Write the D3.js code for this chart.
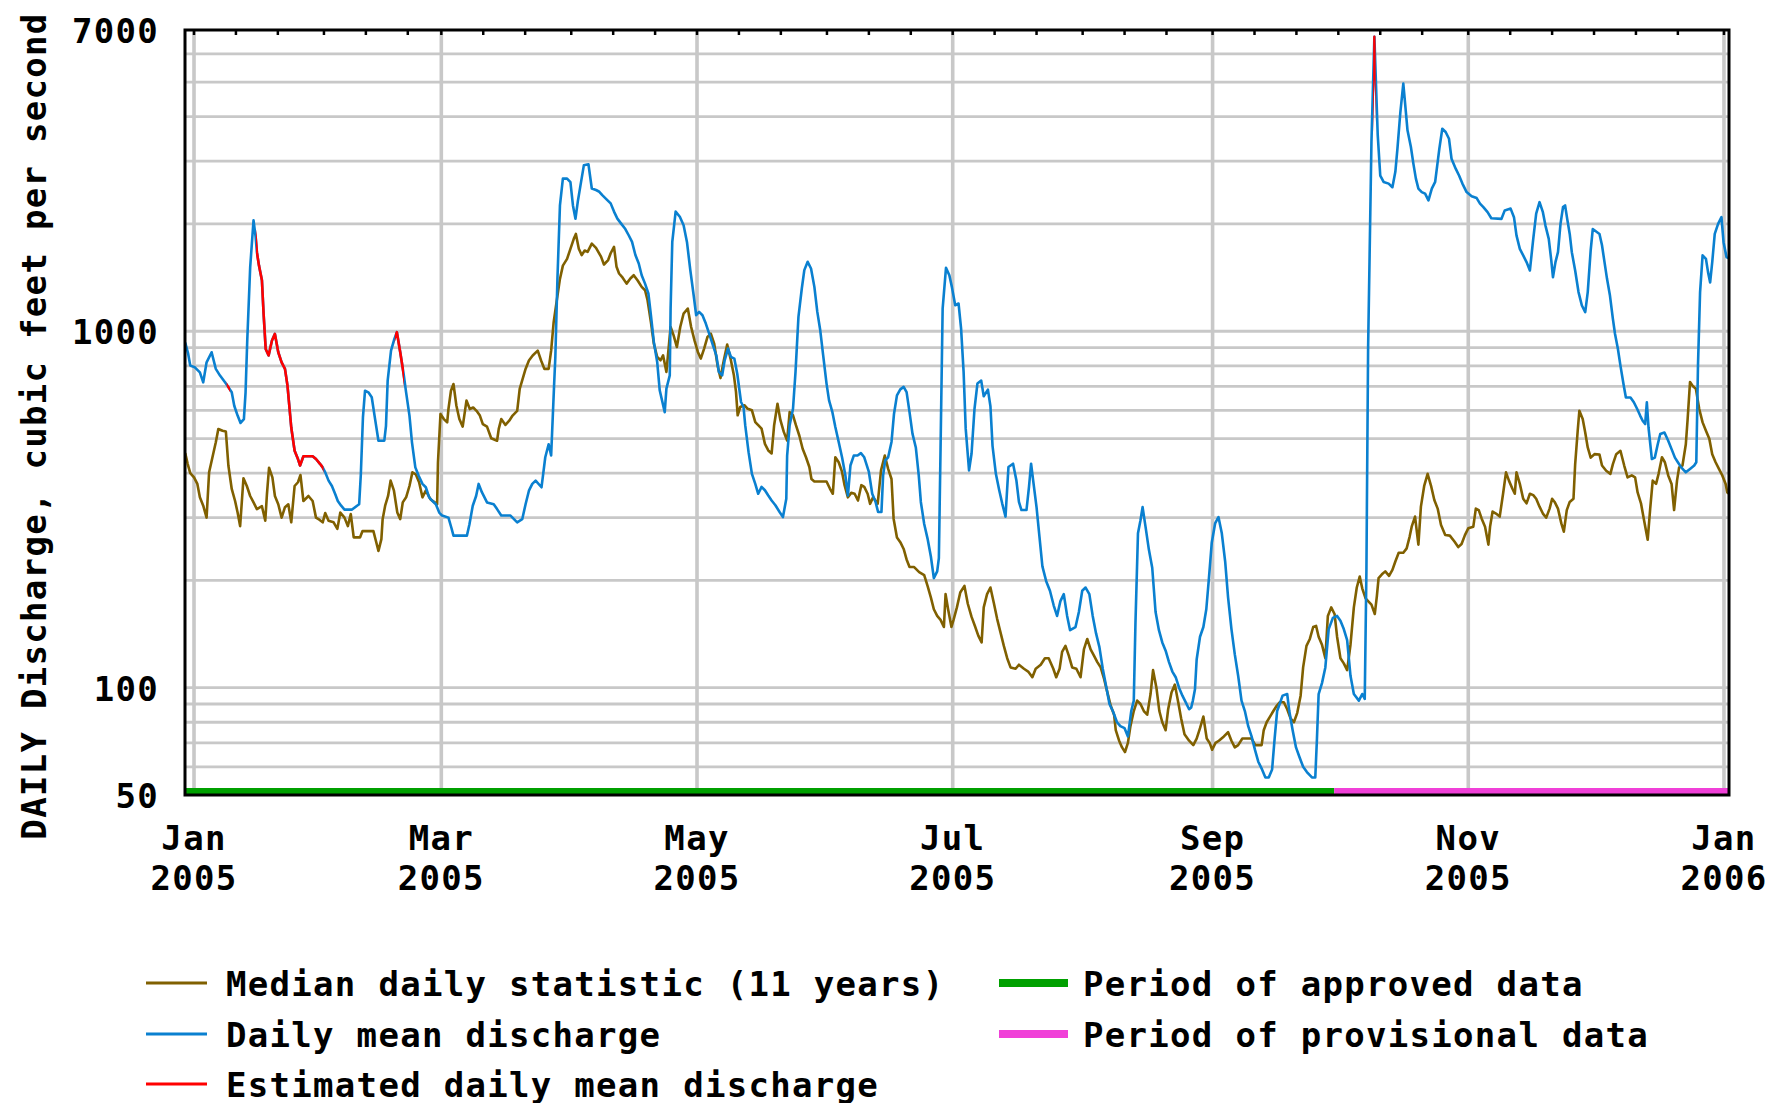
<!DOCTYPE html>
<html>
<head>
<meta charset="utf-8">
<script src="https://cdn.jsdelivr.net/npm/d3@7"></script>
<style>
  body { margin: 0; background: #fff; }
  text { font-family: "DejaVu Sans Mono", monospace; font-weight: bold; font-size: 34px; letter-spacing: 1.3px; fill: #000; }
</style>
</head>
<body>
<div id="chart"></div>
<script>
// days are counted from 1 Jan 2005, flows in cubic feet per second
var median = [
[-2.1,455],[-1.5,424],[-0.9,400],[0,389],[0.8,373],[1.4,342],[2.2,324],[3.0,300],[3.6,402],[4.4,443],[5.2,488],[5.8,532],[6.8,526],[7.6,523],[8.2,420],[9.0,361],[9.8,334],[10.4,310],[11.0,284],[11.8,387],[12.6,368],[13.4,345],[14.2,331],[15.0,317],[16.2,323],[17.0,294],[17.4,349],[17.9,414],[18.7,389],[19.3,345],[20.1,327],[20.9,300],[21.7,321],[22.5,327],[23.2,291],[24.0,368],[24.8,377],[25.4,395],[26.1,334],[27.3,345],[28.3,334],[29.1,300],[29.9,296],[30.7,291],[31.3,309],[32.1,294],[33.3,291],[34.2,279],[34.9,310],[35.9,300],[36.7,284],[37.4,307],[38.1,264],[39.6,264],[40.2,275],[42.8,275],[43.4,258],[44.0,242],[44.7,261],[45.0,297],[45.6,324],[46.3,345],[46.9,381],[47.7,357],[48.5,310],[49.2,297],[49.8,331],[50.6,342],[51.4,368],[52.1,402],[52.9,397],[53.7,377],[54.5,342],[55.3,357],[56.4,338],[57.4,331],[58.0,327],[58.2,429],[58.8,586],[59.6,567],[60.4,555],[60.7,605],[61.3,681],[61.9,711],[62.6,618],[63.3,567],[64.1,540],[65.0,639],[65.8,605],[66.6,611],[67.4,598],[68.2,580],[68.9,549],[69.9,540],[70.9,501],[72.3,493],[72.7,532],[73.3,567],[74.3,546],[75.2,561],[76.0,580],[77.1,598],[77.7,689],[78.4,735],[79.1,784],[79.9,828],[80.8,855],[82.0,882],[82.8,828],[83.6,784],[84.6,784],[85.2,882],[85.8,1060],[86.6,1233],[87.3,1402],[88.0,1528],[89.0,1596],[89.8,1703],[90.6,1816],[91.1,1875],[91.8,1703],[92.5,1635],[93.2,1685],
[93.9,1670],[94.9,1762],[95.9,1714],[97.1,1619],[97.8,1539],[98.8,1584],[99.4,1655],[100.2,1725],[100.8,1516],[101.4,1452],[102.1,1421],[103.2,1360],[104.1,1406],[104.9,1436],[105.8,1390],[106.8,1332],[107.6,1303],[108.2,1222],[109.0,1062],[109.7,923],[110.5,847],[111.3,829],[111.9,856],[112.7,769],[113.7,1028],[114.4,975],[115.2,903],[116.0,1028],[116.8,1121],[117.8,1158],[118.6,1028],[119.4,943],[120.2,875],[120.9,838],[121.7,894],[122.5,964],[123.3,985],[124.1,923],[124.9,802],[125.6,739],[126.4,829],[127.2,918],[128.0,838],[128.8,752],[129.3,676],[129.7,581],[130.3,613],[131.3,620],[132.1,606],[133.1,600],[133.9,556],[134.6,545],[135.4,533],[136.2,483],[137.0,463],[137.8,454],[138.4,545],[139.2,626],[139.9,563],[140.7,522],[141.5,494],[142.1,593],[142.9,581],[143.6,545],[144.4,510],[145.2,468],[146.0,443],[146.8,416],[147.3,385],[148.0,379],[150.9,379],[151.7,362],[152.4,350],[153.0,443],[153.8,429],[154.6,403],[155.2,370],[156.0,342],[156.8,352],[157.6,350],[158.4,335],[159.2,370],[159.9,366],[160.7,350],[161.3,328],[162.0,342],[163.1,328],[163.9,407],[164.8,448],[165.6,411],[166.4,385],[166.9,298],[167.7,264],[168.5,256],[169.3,245],[170.0,229],[170.7,218],[171.8,218],[173.0,211],[174.2,207],[175.0,193],[175.8,179],[176.5,166],[177.3,159],[178.1,155],[178.9,148],[179.3,183],[179.9,166],[180.7,148],[181.2,155],[182.0,168],[182.8,185],[183.8,193],[184.6,172],[185.5,158],[186.3,149],[187.1,140],[187.9,134],
[188.4,168],[189.2,183],[190.0,191],[190.8,173],[191.6,156],[192.4,143],[193.2,131],[194.0,121],[194.8,114],[196.0,113],[196.8,116],[198.0,113],[199.0,111],[200.0,107],[200.8,113],[202.0,116],[203.0,121],[203.9,121],[205.0,113],[205.7,107],[206.5,113],[207.1,126],[207.9,131],[208.7,123],[209.5,114],[210.5,113],[211.5,107],[212.3,128],[213.1,137],[213.9,128],[214.7,123],[215.5,118],[216.3,114],[217.1,106],[217.9,97],[218.7,89],[219.5,84],[219.9,76],[220.7,71],[221.4,68],[222.1,66],[222.8,70],[223.4,78],[224.2,86],[225.0,92],[225.8,90],[226.6,86],[227.4,84],[228.2,96],[228.8,112],[229.6,100],[230.3,86],[231.0,80],[231.8,76],[232.4,87],[233.2,97],[234.0,102],[234.8,91],[235.5,82],[236.3,74],[237.4,71],[238.4,69],[239.2,72],[240.0,77],[240.8,83],[241.6,72],[242.3,70],[242.9,67],[243.7,70],[244.5,71],[245.7,73],[246.7,75],[247.5,71],[248.3,68],[249.1,69],[250.1,72],[252.3,72],[253.2,69],[254.7,69],[255.2,76],[255.9,80],[256.7,83],[257.5,86],[258.3,89],[259.0,91],[260.0,91],[260.8,87],[261.6,82],[262.4,80],[263.2,85],[264.0,95],[264.6,114],[265.4,131],[266.2,137],[267.0,148],[267.7,149],[268.3,139],[269.1,132],[269.9,121],[270.5,159],[271.3,168],[272.1,161],[272.7,139],[273.5,121],[274.3,117],[275.1,112],[275.9,132],[276.7,168],[277.4,191],[278.1,205],[278.7,190],[279.5,178],[280.1,175],[280.9,171],[281.7,161],[282.2,181],[282.6,203],
[283.4,208],[284.2,212],[285.1,206],[285.9,214],[286.6,226],[287.4,239],[288.5,239],[289.3,246],[290.0,265],[290.5,283],[291.3,302],[292.1,252],[292.7,322],[293.5,369],[294.3,398],[295.1,369],[295.9,336],[296.7,318],[297.5,286],[298.5,268],[299.6,267],[300.7,257],[301.6,248],[302.4,253],[303.2,268],[304.0,280],[305.2,283],[305.8,318],[306.5,315],[307.2,298],[308.0,283],[308.8,252],[309.2,283],[309.8,312],[310.6,308],[311.5,302],[312.3,350],[313.0,402],[313.7,381],[314.5,362],[315.1,350],[315.5,402],[316.3,373],[317.1,339],[317.9,329],[318.7,350],[319.5,347],[320.2,339],[321.0,322],[321.8,308],[322.6,300],[323.4,318],[324.0,339],[324.6,332],[325.4,318],[326.2,289],[326.8,274],[327.5,315],[328.2,332],[329.1,339],[329.5,424],[330.1,525],[330.5,598],[331.3,567],[331.9,520],[332.5,472],[333.2,442],[334.1,452],[335.3,451],[335.9,420],[336.9,406],[337.9,398],[338.5,424],[339.3,452],[340.3,462],[341.2,420],[342.0,389],[343.0,394],[343.8,389],[344.4,353],[345.2,329],[346.0,292],[346.8,260],[347.4,318],[348.0,381],[348.8,373],[349.4,398],[350.2,443],[350.9,429],[351.7,394],[352.5,373],[353.1,315],[353.8,381],[354.3,415],[355.1,420],[355.9,482],[356.3,560],[356.9,720],[357.5,703],[358.3,689],[359.1,605],[359.9,555],[360.7,526],[361.5,499],[362.2,452],[363.0,429],[363.8,411],[364.6,394],[365.4,373],[365.8,353],[366.2,350]
];

var dailyMean = [
[-2.1,930],[-1.4,865],[-0.9,801],[0.2,792],[1.4,767],[2.2,719],[3.0,818],[4.2,873],[5.2,784],[6.2,751],[7.4,719],[8.2,697],[9.0,674],[9.6,618],[10.4,580],[11.1,553],[11.9,567],[12.3,674],[12.7,942],[13.4,1512],[14.2,2046],[14.7,1840],[15.0,1667],[15.5,1528],[16.2,1390],[16.6,1120],[17.1,892],[17.8,855],[18.6,942],[19.3,983],[20.1,873],[20.9,818],[21.7,784],[22.3,704],[23.2,537],[24.0,462],[24.8,438],[25.3,420],[26.1,446],[28.3,446],[29.1,438],[30.1,424],[30.7,415],[31.3,402],[32.1,381],[32.9,368],[33.7,349],[34.3,334],[35.1,324],[35.9,316],[37.7,316],[38.9,324],[39.4,327],[39.8,397],[40.3,573],[40.8,681],[41.6,674],[42.4,653],[43.2,567],[44.0,493],[45.4,493],[45.8,543],[46.2,727],[47.0,882],[47.8,952],[48.4,994],[49.2,873],[50.0,760],[50.6,674],[51.4,580],[52.0,488],[52.8,415],[53.6,393],[54.5,373],[55.3,365],[56.1,342],[56.9,334],[57.7,327],[58.5,310],[59.2,304],[60.7,300],[61.4,281],[61.9,267],[65.1,267],[65.7,287],[66.5,324],[67.3,345],[67.9,373],[68.7,353],[69.9,331],[71.5,327],[72.3,317],[73.3,304],[75.5,304],[77.1,291],[78.3,297],[79.1,327],[79.9,357],[80.7,373],[81.5,381],[82.9,365],[83.2,389],[83.8,443],[84.6,482],[85.2,448],[85.9,704],[86.2,845],[86.7,1402],[87.3,2254],[88.0,2680],[89.0,2680],[89.8,2620],[90.4,2254],[91.0,2068],[91.6,2328],[92.2,2566],[93.0,2920],
[94.1,2940],[94.9,2515],[95.9,2490],[96.7,2462],[97.4,2410],[98.6,2333],[99.4,2284],[100.2,2166],[101.0,2070],[101.9,2004],[102.9,1935],[103.7,1859],[104.5,1781],[105.3,1636],[106.1,1549],[106.8,1436],[107.6,1360],[108.4,1276],[109.0,1109],[109.7,933],[110.5,820],[111.1,683],[112.3,593],[112.7,690],[113.5,752],[113.7,1158],[114.1,1781],[114.9,2166],[115.9,2095],[116.8,1984],[117.6,1781],[118.4,1484],[119.2,1262],[119.8,1109],[120.5,1133],[121.3,1109],[122.1,1051],[122.9,985],[123.8,913],[124.6,856],[125.2,769],[126.0,752],[126.6,829],[127.4,894],[128.1,847],[128.9,838],[129.6,760],[130.5,633],[131.1,613],[131.5,545],[132.3,458],[133.1,398],[133.9,373],[134.6,350],[135.4,366],[136.2,358],[137.0,346],[137.8,335],[138.7,325],[139.7,311],[140.5,301],[141.3,339],[141.5,448],[142.1,545],[142.9,606],[143.5,769],[144.2,1097],[145.0,1318],[145.6,1484],[146.4,1566],[147.2,1500],[148.0,1332],[148.7,1133],[149.4,1006],[150.1,856],[150.9,713],[151.5,640],[152.3,593],[153.0,539],[153.8,489],[154.6,443],[155.4,394],[156.0,346],[156.6,420],[157.4,448],[158.3,448],[159.1,455],[159.9,443],[161.0,403],[161.8,350],[162.6,332],[163.2,311],[164.0,311],[164.4,394],[164.9,434],[165.6,443],[166.4,489],[167.0,587],[167.7,661],[168.5,687],[169.3,698],[170.0,675],[170.7,593],[171.4,516],[172.2,472],[172.9,394],[173.4,332],[174.2,288],[175.0,262],[175.8,233],[176.5,203],[177.3,212],[177.7,231],[178.1,468],[178.6,1158],[179.4,1506],[180.2,1436],[180.8,1332],[181.6,1183],[182.4,1196],[183.0,1017],[183.6,769],[184.1,533],[184.9,407],[185.5,454],[186.2,606],[186.9,713],
[187.8,727],[188.4,657],[189.4,686],[190.0,616],[190.5,477],[191.3,398],[192.1,358],[192.8,329],[193.6,302],[194.3,416],[195.4,425],[196.2,381],[196.8,332],[197.4,315],[198.6,315],[199.2,366],[199.7,425],[200.2,381],[201.0,321],[201.7,265],[202.4,219],[203.3,199],[204.2,187],[205.1,170],[205.9,159],[206.7,175],[207.5,183],[208.3,159],[209.0,145],[210.3,148],[211.1,163],[211.9,187],[212.7,191],[213.6,183],[214.4,159],[215.2,142],[216.0,130],[216.8,113],[217.6,101],[218.4,90],[219.2,86],[220.2,80],[221.0,78],[222.0,77],[222.8,73],[223.6,86],[224.2,92],[224.6,152],[225.2,271],[225.8,295],[226.3,321],[227.0,283],[227.8,244],[228.6,217],[229.4,163],[230.2,145],[231.0,134],[231.8,127],[232.6,118],[233.4,111],[234.2,107],[235.0,100],[235.8,95],[236.6,91],[237.4,87],[237.9,88],[238.3,92],[238.8,99],[239.2,120],[240.0,139],[240.8,148],[241.5,166],[242.1,201],[242.8,255],[243.6,289],[244.4,301],[245.2,271],[246.0,226],[246.7,179],[247.5,146],[248.3,124],[249.1,108],[249.9,92],[250.7,86],[251.5,78],[252.3,73],[253.1,67],[253.9,62],[254.8,59],[255.6,56],[256.4,56],[257.2,59],[257.8,72],[258.4,86],[259.0,90],[259.7,95],[260.8,96],[261.3,86],[262.1,76],[262.9,68],[263.7,64],[264.6,60],[265.5,58],[266.7,56],[267.5,56],[267.9,72],[268.3,96],[269.1,103],[269.9,114],[270.7,146],[271.7,157],[272.7,159],[273.5,154],[274.3,146],[275.1,136],[275.9,108],[276.7,96],[277.9,92],[278.7,96],[279.3,93],[279.7,214],[280.1,892],[280.9,3400],[281.6,6700],[282.4,3548],[283.0,2734],
[283.8,2623],[285.0,2595],[285.9,2535],[286.6,2800],[287.1,3252],[287.8,4121],[288.5,4952],[288.9,4396],[289.5,3661],[290.3,3292],[290.9,2952],[291.5,2680],[292.1,2512],[292.9,2457],[293.7,2432],[294.5,2329],[295.3,2512],[296.1,2623],[297.1,3252],[297.8,3700],[298.6,3622],[299.4,3468],[300.0,3048],[301.0,2858],[301.8,2734],[302.6,2595],[303.6,2457],[304.8,2393],[306.0,2364],[306.8,2280],[307.6,2230],[308.6,2158],[309.5,2075],[311.9,2066],[312.7,2183],[314.1,2208],[314.9,2089],[315.5,1857],[316.3,1703],[317.1,1632],[317.9,1563],[318.7,1481],[319.5,1816],[320.2,2138],[321.0,2302],[321.8,2158],[322.4,1982],[323.2,1816],[323.8,1581],[324.2,1418],[324.8,1563],[325.4,1667],[326.0,2001],[326.6,2230],[327.1,2254],[327.6,2066],[328.2,1875],[328.7,1667],[329.5,1481],[330.3,1288],[331.1,1181],[331.9,1131],[332.5,1288],[333.2,1686],[333.7,1935],[334.5,1905],[335.3,1875],[335.9,1742],[336.5,1563],[337.1,1403],[337.8,1259],[338.5,1083],[339.0,984],[339.7,892],[340.3,801],[341.1,703],[341.6,652],[342.7,652],[343.5,632],[344.3,605],[345.0,580],[345.6,561],[346.2,549],[346.6,632],[347.0,537],[347.8,438],[348.5,442],[349.2,482],[349.8,515],[350.8,520],[351.7,493],[352.5,467],[353.3,442],[354.0,429],[354.8,415],[355.9,402],[356.9,411],[357.9,420],[358.4,429],[358.8,801],[359.3,1288],[359.9,1632],[360.7,1596],[361.2,1465],[361.7,1371],[362.2,1563],[362.8,1875],[363.6,2001],[364.4,2089],[364.9,1778],[365.6,1615],[366.2,1600]
];

// spans (in days) where the daily mean was estimated
var estimatedFrom = [7.8, 14.8, 47.9, 281.3];
var estimatedTo   = [8.6, 30.9, 50.1, 281.9];

// approval status of the record
var periodNames = ["approved", "provisional"];
var periodStart = ["2004-12-29", "2005-09-30"];
var periodEnd   = ["2005-09-30", "2006-01-03"];

var yLabels = [50, 100, 1000, 7000];
var yGrid = [60, 70, 80, 90, 100, 200, 300, 400, 500, 600, 700, 800, 900, 1000, 2000, 3000, 4000, 5000, 6000];
var monthGrid = ["2005-01-01", "2005-03-01", "2005-05-01", "2005-07-01", "2005-09-01", "2005-11-01", "2006-01-01"];
var monthNames = ["Jan", "Mar", "May", "Jul", "Sep", "Nov", "Jan"];
var monthYears = ["2005", "2005", "2005", "2005", "2005", "2005", "2006"];

var legendLeft = ["Median daily statistic (11 years)", "Daily mean discharge", "Estimated daily mean discharge"];
var legendRight = ["Period of approved data", "Period of provisional data"];

var brown = "#806000", blue = "#0a80d0", red = "#ff0000", green = "#00a000", pink = "#f040d8", grey = "#c8c8c8";

var width = 1782, height = 1103;
var plotLeft = 185, plotRight = 1729, plotTop = 30, plotBottom = 795;

var start = Date.UTC(2005, 0, 1);
function day(t) { return new Date(start + t * 864e5); }
function utc(s) { return new Date(s + "T00:00:00Z"); }

var x = d3.scaleUtc()
    .domain([day(-2.15), day(366.2)])
    .range([plotLeft, plotRight]);

var y = d3.scaleLog()
    .domain([50, 7000])
    .range([plotBottom, plotTop]);

var svg = d3.select("#chart")
    .append("svg")
    .attr("width", width)
    .attr("height", height)
    .style("display", "block");

svg.append("rect").attr("width", width).attr("height", height).attr("fill", "#fff");

svg.append("clipPath").attr("id", "plot")
    .append("rect")
    .attr("x", plotLeft).attr("y", plotTop)
    .attr("width", plotRight - plotLeft).attr("height", plotBottom - plotTop);

var plot = svg.append("g").attr("clip-path", "url(#plot)");

// grid
plot.selectAll(".hgrid")
    .data(yGrid)
    .enter()
    .append("line")
    .attr("x1", plotLeft).attr("x2", plotRight)
    .attr("y1", function(d) { return y(d); })
    .attr("y2", function(d) { return y(d); })
    .attr("stroke", grey)
    .attr("stroke-width", 2.8);

plot.selectAll(".vgrid")
    .data(monthGrid)
    .enter()
    .append("line")
    .attr("x1", function(d) { return x(utc(d)); })
    .attr("x2", function(d) { return x(utc(d)); })
    .attr("y1", plotTop).attr("y2", plotBottom)
    .attr("stroke", grey)
    .attr("stroke-width", 3.6);

// approved / provisional bar along the bottom
plot.selectAll(".period")
    .data(periodNames)
    .enter()
    .append("rect")
    .attr("x", function(d, i) { return x(utc(periodStart[i])); })
    .attr("width", function(d, i) { return x(utc(periodEnd[i])) - x(utc(periodStart[i])); })
    .attr("y", plotBottom - 7)
    .attr("height", 6)
    .attr("fill", function(d) { return d == "approved" ? green : pink; });

var line = d3.line()
    .x(function(d) { return x(day(d[0])); })
    .y(function(d) { return y(d[1]); });

plot.append("path")
    .datum(median)
    .attr("d", line)
    .attr("fill", "none")
    .attr("stroke", brown)
    .attr("stroke-width", 2.6)
    .attr("stroke-linejoin", "round");

plot.append("path")
    .datum(dailyMean)
    .attr("d", line)
    .attr("fill", "none")
    .attr("stroke", blue)
    .attr("stroke-width", 2.6)
    .attr("stroke-linejoin", "round");

// estimated pieces drawn in red over the daily mean
estimatedFrom.forEach(function(t0, i) {
    var id = "est" + i;
    svg.append("clipPath").attr("id", id)
        .append("rect")
        .attr("x", x(day(t0)))
        .attr("width", x(day(estimatedTo[i])) - x(day(t0)))
        .attr("y", plotTop)
        .attr("height", plotBottom - plotTop);
    plot.append("g").attr("clip-path", "url(#" + id + ")")
        .append("path")
        .datum(dailyMean)
        .attr("d", line)
        .attr("fill", "none")
        .attr("stroke", red)
        .attr("stroke-width", 2.6)
        .attr("stroke-linejoin", "round");
});

// small ticks on the top edge: 1st, 11th and 21st of each month
var minorTicks = d3.utcDay.range(utc("2005-01-01"), utc("2006-01-02"))
    .filter(function(d) { var n = d.getUTCDate(); return n == 1 || n == 11 || n == 21; });

svg.selectAll(".minor")
    .data(minorTicks)
    .enter()
    .append("line")
    .attr("x1", function(d) { return x(d); })
    .attr("x2", function(d) { return x(d); })
    .attr("y1", plotTop).attr("y2", plotTop + 5)
    .attr("stroke", "#000")
    .attr("stroke-width", 2.5);

// frame
svg.append("rect")
    .attr("x", plotLeft).attr("y", plotTop)
    .attr("width", plotRight - plotLeft).attr("height", plotBottom - plotTop)
    .attr("fill", "none")
    .attr("stroke", "#000")
    .attr("stroke-width", 3);

// y labels
svg.selectAll(".ylab")
    .data(yLabels)
    .enter()
    .append("text")
    .attr("x", 159)
    .attr("y", function(d) { return y(d) + 13; })
    .attr("text-anchor", "end")
    .text(function(d) { return d; });

// x labels
var xl = svg.selectAll(".xlab")
    .data(monthGrid)
    .enter()
    .append("g")
    .attr("transform", function(d) { return "translate(" + x(utc(d)) + ",0)"; });

xl.append("text")
    .attr("y", 850)
    .attr("text-anchor", "middle")
    .text(function(d, i) { return monthNames[i]; });

xl.append("text")
    .attr("y", 890)
    .attr("text-anchor", "middle")
    .text(function(d, i) { return monthYears[i]; });

// y title
svg.append("text")
    .attr("transform", "translate(34,426) rotate(-90)")
    .attr("text-anchor", "middle")
    .attr("dominant-baseline", "central")
    .text("DAILY Discharge, cubic feet per second");

// legend
var leftColors = [brown, blue, red];
var rowY = [983, 1034, 1084];

legendLeft.forEach(function(name, i) {
    svg.append("line")
        .attr("x1", 146).attr("x2", 207)
        .attr("y1", rowY[i]).attr("y2", rowY[i])
        .attr("stroke", leftColors[i])
        .attr("stroke-width", 3);
    svg.append("text")
        .attr("x", 226)
        .attr("y", rowY[i] + 13)
        .text(name);
});

var rightColors = [green, pink];
legendRight.forEach(function(name, i) {
    svg.append("line")
        .attr("x1", 999).attr("x2", 1068)
        .attr("y1", rowY[i]).attr("y2", rowY[i])
        .attr("stroke", rightColors[i])
        .attr("stroke-width", 8);
    svg.append("text")
        .attr("x", 1083)
        .attr("y", rowY[i] + 13)
        .text(name);
});
</script>
</body>
</html>
